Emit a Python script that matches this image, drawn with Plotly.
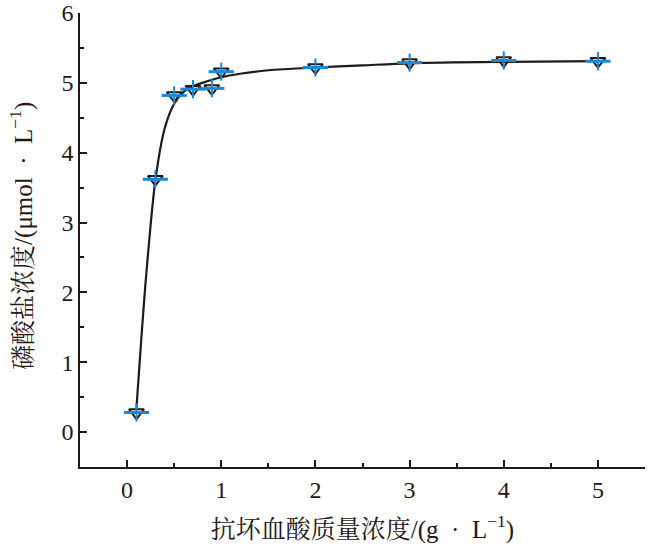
import plotly.graph_objects as go

# measured points
x_pts = [0.1, 0.3, 0.5, 0.7, 0.9, 1.0, 2, 3, 4, 5]
y_pts = [0.28, 3.62, 4.82, 4.91, 4.92, 5.16, 5.22, 5.29, 5.32, 5.31]

# fitted curve
x_fit = [0.1, 0.2, 0.3, 0.4, 0.5, 0.6, 0.7, 0.8, 1.0, 1.2, 1.5, 2, 2.5, 3, 4, 5]
y_fit = [0.35, 2.2, 3.6, 4.35, 4.7, 4.87, 4.95, 5.0, 5.08, 5.13, 5.18, 5.22, 5.25, 5.28, 5.30, 5.31]

x_title = "抗坏血酸质量浓度/(g\u2002·\u2002L<sup>−1</sup>)"
y_title = "磷酸盐浓度/(μmol\u2002·\u2002L<sup>−1</sup>)"

FONT = "Liberation Serif, Times New Roman, Noto Serif CJK SC, Noto Sans CJK SC, serif"
BLUE = "#1a88d6"
INK = "#231815"

fig = go.Figure()
fig.add_trace(go.Scatter(x=x_fit, y=y_fit, mode="lines", line=dict(color=INK, width=2.2, shape="spline", smoothing=0.8), showlegend=False, hoverinfo="skip"))
fig.add_trace(go.Scatter(x=x_pts, y=y_pts, mode="markers",
                         marker=dict(symbol="triangle-down-open", size=13, color=INK, line=dict(width=2, color=INK)), showlegend=False))
fig.add_trace(go.Scatter(x=x_pts, y=y_pts, mode="markers",
                         marker=dict(symbol="line-ew", size=18, line=dict(width=3, color=BLUE)), showlegend=False))
fig.add_trace(go.Scatter(x=x_pts, y=y_pts, mode="markers",
                         marker=dict(symbol="line-ns", size=13, line=dict(width=2, color=BLUE)), showlegend=False))

axis_common = dict(showline=True, linecolor=INK, linewidth=1.5, ticks="inside", ticklen=7, tickwidth=1.5,
                   tickcolor=INK, showgrid=False, zeroline=False, mirror=False, automargin=False,
                   ticklabeloverflow="allow",
                   tickfont=dict(family=FONT, size=24, color=INK),
                   minor=dict(ticks="inside", ticklen=4, tickwidth=1.5, tickcolor=INK, dtick=0.5, showgrid=False))

fig.update_xaxes(range=[-0.5, 5.5], tick0=0, dtick=1, title=dict(text=x_title, font=dict(family=FONT, size=25, color=INK), standoff=19), **axis_common)
fig.update_yaxes(range=[-0.5, 6], tick0=0, dtick=1, **axis_common)

fig.add_annotation(text=y_title, xref="paper", yref="paper", x=-0.1027, y=0.509,
                   xanchor="center", yanchor="middle", textangle=-90, showarrow=False,
                   font=dict(family=FONT, size=25, color=INK))

fig.update_layout(width=650, height=544, margin=dict(l=80, r=5, t=13, b=77),
                  plot_bgcolor="white", paper_bgcolor="white", font=dict(family=FONT))

# remove the default page margin so the figure sits at the window's corner
fig.write_html("out.html", config={"displayModeBar": False},
               post_script="document.body.style.margin='0';")
